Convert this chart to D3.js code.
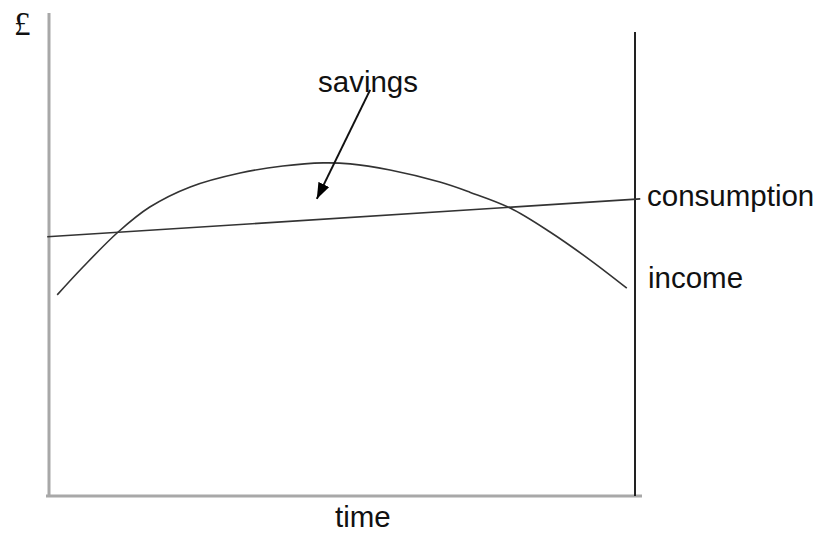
<!DOCTYPE html>
<html>
<head>
<meta charset="utf-8">
<script src="https://cdn.jsdelivr.net/npm/d3@7"></script>
<style>
html,body{margin:0;padding:0;background:#fff;}
svg{display:block;}
text{font-family:"Liberation Sans",Arial,sans-serif;fill:#111;}
</style>
</head>
<body>
<svg id="chart" width="821" height="541"></svg>
<script>
// time (0-100) vs £ (0-100)
const incomeTime  = [1.4, 5.8, 11.8, 17.2, 24.1, 32.6, 39.9, 46.8, 51.4, 58.2, 66.7, 71.8, 78.7, 85.5, 92.3, 98.6];
const incomeValue = [41.9, 47.7, 55.0, 60.2, 64.4, 67.3, 68.75, 69.4, 69.2, 67.9, 65.4, 63.3, 60.0, 55.0, 49.2, 43.3];
const consumptionTime  = [-0.3, 100.9];
const consumptionValue = [54.0, 61.9];
const arrowTime  = [54.8, 45.7];
const arrowValue = [84.6, 61.9];
const labels = ["£", "savings", "consumption", "income", "time"];

const svg = d3.select("#chart");
const x = d3.scaleLinear().domain([0, 100]).range([49, 635]);
const y = d3.scaleLinear().domain([0, 100]).range([496, 16]);

// axes
svg.append("line").attr("x1", x(0)).attr("x2", x(0)).attr("y1", 13).attr("y2", y(0) + 1)
  .attr("stroke", "#a8a8a8").attr("stroke-width", 3);
svg.append("line").attr("x1", 46).attr("x2", 642).attr("y1", y(0)).attr("y2", y(0))
  .attr("stroke", "#a8a8a8").attr("stroke-width", 3);
svg.append("line").attr("x1", x(100)).attr("x2", x(100)).attr("y1", 32).attr("y2", y(0))
  .attr("stroke", "#222").attr("stroke-width", 2);

// income curve
const inc = incomeTime.map((t, i) => [t, incomeValue[i]]);
svg.append("path").datum(inc)
  .attr("d", d3.line().x(d => x(d[0])).y(d => y(d[1])).curve(d3.curveCatmullRom))
  .attr("fill", "none").attr("stroke", "#333").attr("stroke-width", 1.6);

// consumption line
const con = consumptionTime.map((t, i) => [t, consumptionValue[i]]);
svg.append("path").datum(con)
  .attr("d", d3.line().x(d => x(d[0])).y(d => y(d[1])))
  .attr("fill", "none").attr("stroke", "#333").attr("stroke-width", 1.6);

// arrow
svg.append("defs").append("marker")
  .attr("id", "ah").attr("viewBox", "0 0 16 12").attr("refX", 16).attr("refY", 6)
  .attr("markerWidth", 16).attr("markerHeight", 12).attr("markerUnits", "userSpaceOnUse")
  .attr("orient", "auto")
  .append("path").attr("d", "M0,0 L16,6 L0,12 Z").attr("fill", "#000");
svg.append("line")
  .attr("x1", x(arrowTime[0])).attr("y1", y(arrowValue[0]))
  .attr("x2", x(arrowTime[1])).attr("y2", y(arrowValue[1]))
  .attr("stroke", "#111").attr("stroke-width", 2).attr("marker-end", "url(#ah)");

// labels
svg.append("text").attr("x", 14).attr("y", 35).style("font-family", "'Liberation Serif',serif")
  .style("font-size", "33px").text(labels[0]);
svg.append("text").attr("x", 318).attr("y", 92).style("font-size", "29.5px").text(labels[1]);
svg.append("text").attr("x", 647).attr("y", 206).style("font-size", "29.5px").text(labels[2]);
svg.append("text").attr("x", 648).attr("y", 288).style("font-size", "29.5px").text(labels[3]);
svg.append("text").attr("x", 335).attr("y", 527).style("font-size", "29.5px").text(labels[4]);
</script>
</body>
</html>
